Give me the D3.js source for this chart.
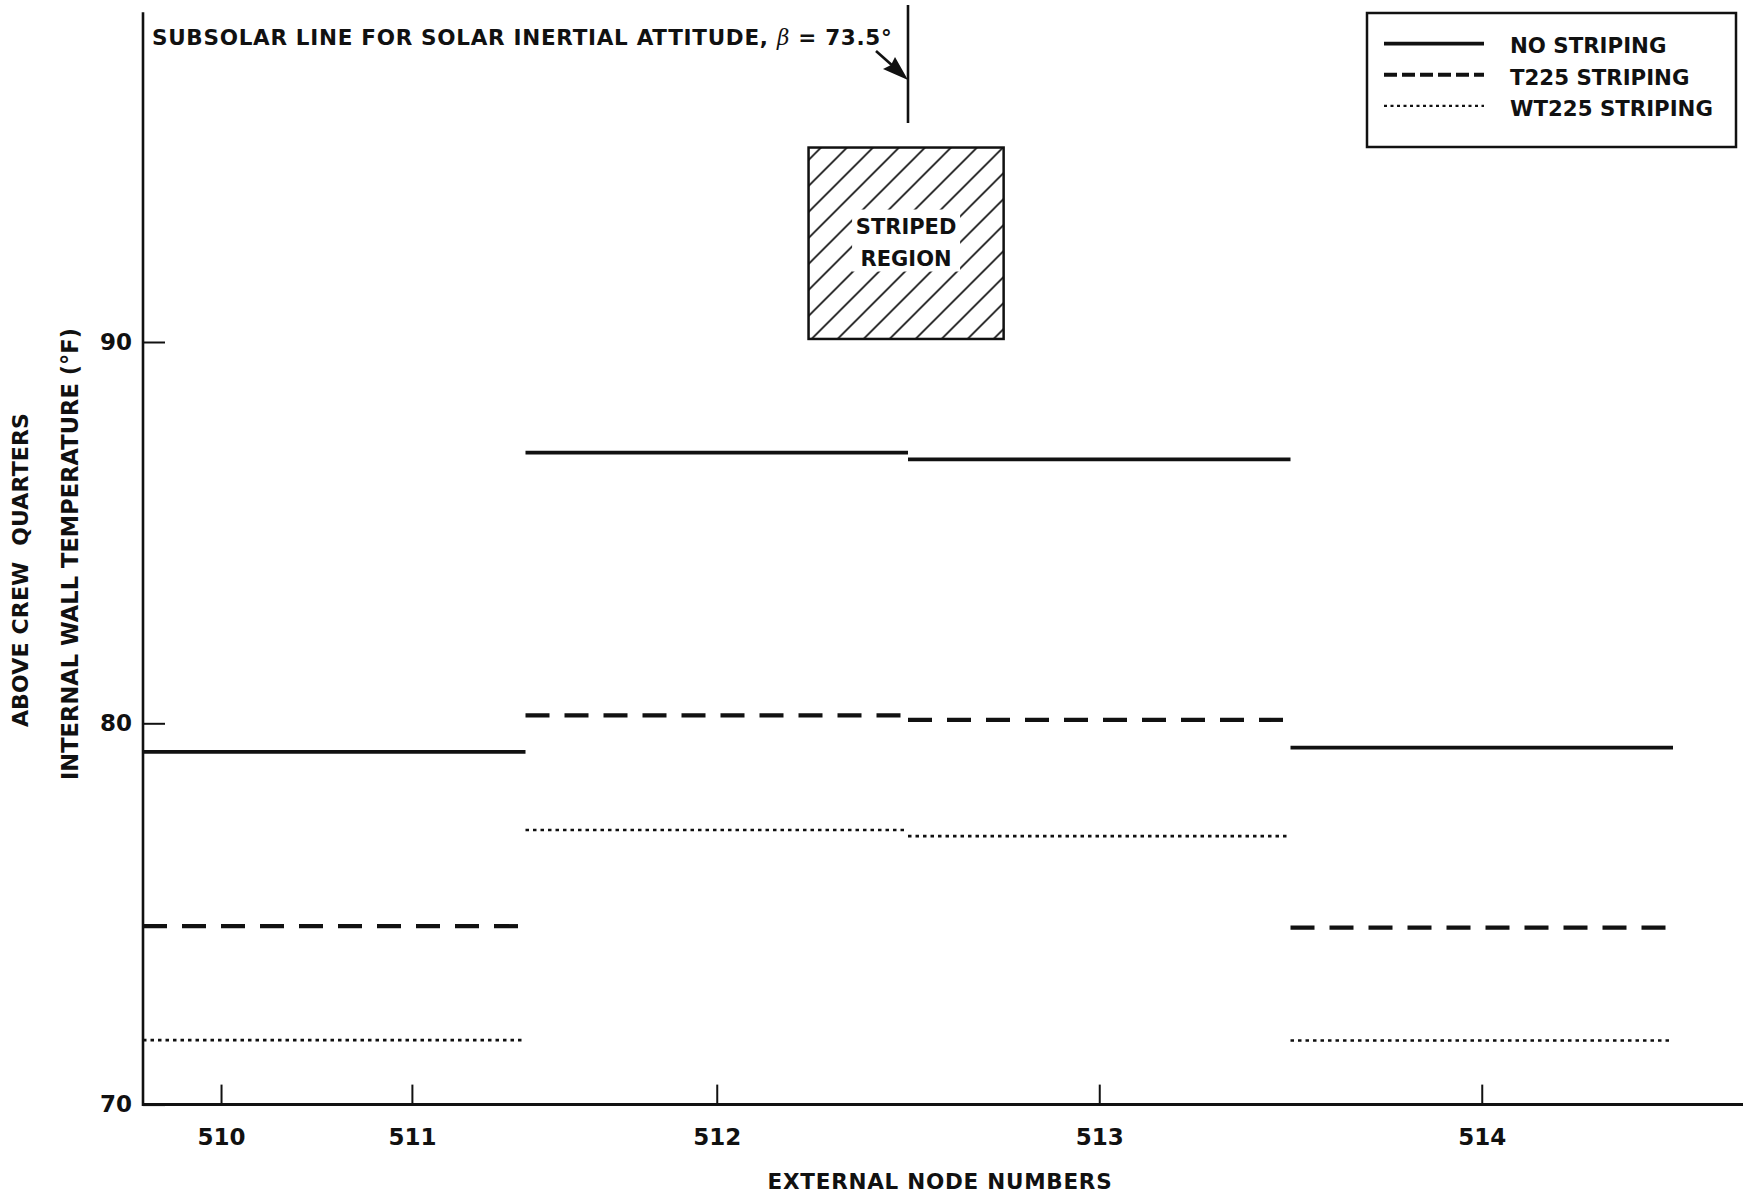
<!DOCTYPE html>
<html>
<head>
<meta charset="utf-8">
<script src="https://cdn.jsdelivr.net/npm/d3@7"></script>
<style>
  html, body { margin: 0; padding: 0; background: #fff; }
  svg { display: block; }
  text { font-family: "DejaVu Sans", "Liberation Sans", sans-serif; font-weight: bold; fill: #111; }
</style>
</head>
<body>
<svg id="chart" width="1743" height="1203"></svg>
<script>
// ---- data ----
const nodeLabels = ["510", "511", "512", "513", "514"];
const nodePositions = [0.204, 0.703, 1.5, 2.5, 3.5];   // position along wall (segment units)
const segmentStart = [0, 1, 2, 3];
const segmentEnd = [1, 2, 3, 4];
const noStriping = [79.25, 87.10, 86.92, 79.36];
const t225Striping = [74.68, 80.21, 80.09, 74.64];
const wt225Striping = [71.69, 77.20, 77.04, 71.68];
const yTicks = [70, 80, 90];
const seriesNames = ["NO STRIPING", "T225 STRIPING", "WT225 STRIPING"];
const stripedRegionX = [1.74, 2.25];
const stripedRegionY = [90.08, 95.1];
const subsolarPosition = 2;
const subsolarLabel = "SUBSOLAR LINE FOR SOLAR INERTIAL ATTITUDE, ";
const betaValue = "73.5°";

// ---- layout ----
const svg = d3.select("#chart");
const x = d3.scaleLinear().domain([0, 4.183]).range([143, 1743]);
const y = d3.scaleLinear().domain([70, 90]).range([1104.6, 342]);

function fit(sel, w) {
  const n = sel.text().length;
  const L = sel.node().getComputedTextLength();
  sel.attr("letter-spacing", ((w - L) / Math.max(n - 1, 1)).toFixed(2));
}

// striped region (hatched box)
const defs = svg.append("defs");
const pat = defs.append("pattern").attr("id", "hatch")
  .attr("patternUnits", "userSpaceOnUse").attr("width", 26).attr("height", 26)
  .attr("x", x(stripedRegionX[0]) + 4).attr("y", 0);
pat.append("path").attr("d", "M-2,2 L2,-2 M0,26 L26,0 M24,28 L28,24")
  .attr("stroke", "#111").attr("stroke-width", 1.7);

const bx0 = x(stripedRegionX[0]), bx1 = x(stripedRegionX[1]);
const by0 = y(stripedRegionY[1]), by1 = y(stripedRegionY[0]);
svg.append("rect").attr("x", bx0).attr("y", by0).attr("width", bx1 - bx0).attr("height", by1 - by0)
  .attr("fill", "url(#hatch)");
const bcx = (bx0 + bx1) / 2;
svg.append("rect").attr("x", bcx - 54).attr("y", by0 + 62).attr("width", 108).attr("height", 62)
  .attr("fill", "#fff");
svg.append("rect").attr("x", bx0).attr("y", by0).attr("width", bx1 - bx0).attr("height", by1 - by0)
  .attr("fill", "none").attr("stroke", "#111").attr("stroke-width", 2.5);
svg.append("text").attr("x", bcx).attr("y", by0 + 86).attr("text-anchor", "middle")
  .attr("font-size", 21).text("STRIPED");
svg.append("text").attr("x", bcx).attr("y", by0 + 118).attr("text-anchor", "middle")
  .attr("font-size", 21).text("REGION");

// subsolar line + arrow + label
const xs = x(subsolarPosition);
svg.append("line").attr("x1", xs).attr("x2", xs).attr("y1", 5).attr("y2", 123)
  .attr("stroke", "#111").attr("stroke-width", 2.6);
const tipY = 80;
svg.append("line").attr("x1", xs - 32).attr("y1", tipY - 29).attr("x2", xs - 14).attr("y2", tipY - 13)
  .attr("stroke", "#111").attr("stroke-width", 2.6);
svg.append("path")
  .attr("d", `M${xs},${tipY} L${xs - 13},${tipY - 23} L${xs - 17},${tipY - 15} L${xs - 25},${tipY - 11} Z`)
  .attr("fill", "#111");
const sub = svg.append("text").attr("x", 152).attr("y", 45).attr("font-size", 21.5);
sub.append("tspan").text(subsolarLabel);
sub.append("tspan").attr("font-style", "italic").attr("font-weight", "normal").attr("font-family", "DejaVu Serif, serif").text("β");
sub.append("tspan").text(" = " + betaValue);
fit(sub, 740);

// axes
const numFont = "Liberation Sans, Arial, sans-serif";
const xAxis = d3.axisBottom(x).tickValues(nodePositions)
  .tickFormat((d, i) => nodeLabels[i]).tickSizeInner(-20).tickSizeOuter(0).tickPadding(24);
const gx = svg.append("g").attr("transform", `translate(0,${y(70)})`).call(xAxis);
gx.select(".domain").remove();
gx.selectAll(".tick line").attr("stroke", "#111").attr("stroke-width", 2);
gx.selectAll(".tick text").attr("font-size", 23).attr("font-family", numFont).attr("font-weight", "bold").attr("fill", "#111");

const yAxis = d3.axisLeft(y).tickValues(yTicks).tickSizeInner(-22).tickSizeOuter(0).tickPadding(11);
const gy = svg.append("g").attr("transform", `translate(${x(0)},0)`).call(yAxis);
gy.select(".domain").remove();
gy.selectAll(".tick line").attr("stroke", "#111").attr("stroke-width", 2);
gy.selectAll(".tick text").attr("font-size", 23).attr("font-family", numFont).attr("font-weight", "bold").attr("fill", "#111");

svg.append("line").attr("x1", x(0)).attr("x2", x(4.183)).attr("y1", y(70)).attr("y2", y(70))
  .attr("stroke", "#111").attr("stroke-width", 3);
svg.append("line").attr("x1", x(0)).attr("x2", x(0)).attr("y1", y(70) + 1.5).attr("y2", y(98.65))
  .attr("stroke", "#111").attr("stroke-width", 2.6);

// axis titles
const xt = svg.append("text").attr("x", 940).attr("y", 1189).attr("text-anchor", "middle")
  .attr("font-size", 21.5).text("EXTERNAL NODE NUMBERS");
fit(xt, 344);
const yt1 = svg.append("text").attr("transform", "translate(28,570) rotate(-90)")
  .attr("text-anchor", "middle").attr("font-size", 22).style("white-space", "pre")
  .text("ABOVE CREW  QUARTERS");
fit(yt1, 314);
const yt2 = svg.append("text").attr("transform", "translate(78,554) rotate(-90)")
  .attr("text-anchor", "middle").attr("font-size", 22.5)
  .text("INTERNAL WALL TEMPERATURE (°F)");
fit(yt2, 452);

// series segments
const styles = [
  { data: noStriping, width: 3.8, dash: null },
  { data: t225Striping, width: 4.2, dash: "24,15" },
  { data: wt225Striping, width: 2.6, dash: "3.5,4" }
];
styles.forEach(s => {
  svg.append("g").selectAll("line").data(s.data).join("line")
    .attr("x1", (d, i) => x(segmentStart[i]))
    .attr("x2", (d, i) => x(segmentEnd[i]))
    .attr("y1", d => y(d)).attr("y2", d => y(d))
    .attr("stroke", "#111").attr("stroke-width", s.width)
    .attr("stroke-dasharray", s.dash);
});

// legend
const lg = svg.append("g");
lg.append("rect").attr("x", 1367).attr("y", 13).attr("width", 369).attr("height", 134)
  .attr("fill", "#fff").attr("stroke", "#111").attr("stroke-width", 2.5);
const legendDash = [null, "13,5", "3,3.5"];
const legendWidth = [3.6, 4, 2.3];
seriesNames.forEach((name, i) => {
  const cy = 45.6 + i * 31.1;
  lg.append("line").attr("x1", 1384).attr("x2", 1484).attr("y1", cy - 2).attr("y2", cy - 2)
    .attr("stroke", "#111").attr("stroke-width", legendWidth[i]).attr("stroke-dasharray", legendDash[i]);
  lg.append("text").attr("x", 1510).attr("y", cy + 7.8).attr("font-size", 21.3).text(name);
});
</script>
</body>
</html>
